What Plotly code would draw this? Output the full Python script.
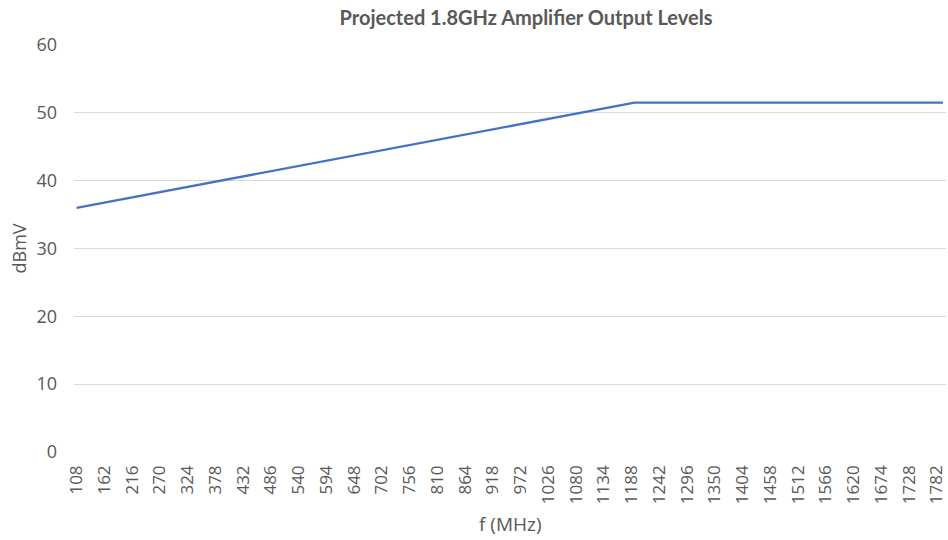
import plotly.graph_objects as go

# Data
freq_mhz = [108, 1194, 1794]
level_dbmv = [36.0, 51.5, 51.5]

tick_freqs = [108, 162, 216, 270, 324, 378, 432, 486, 540, 594, 648, 702, 756, 810,
              864, 918, 972, 1026, 1080, 1134, 1188, 1242, 1296, 1350, 1404, 1458,
              1512, 1566, 1620, 1674, 1728, 1782]
y_ticks = [0, 10, 20, 30, 40, 50, 60]

title_text = "Projected 1.8GHz Amplifier Output Levels"
x_title = "f (MHz)"
y_title = "dBmV"

gray = "#595959"
font_family = "Open Sans, Lato, sans-serif"

PLOT_L, PLOT_R, PLOT_T, PLOT_B = 74, 946, 45, 452
W, H = 948, 540
PW, PH = PLOT_R - PLOT_L, PLOT_B - PLOT_T

fig = go.Figure()
fig.add_trace(go.Scatter(
    x=freq_mhz, y=level_dbmv, mode="lines",
    line=dict(color="#4472C4", width=2.25),
    hoverinfo="x+y", showlegend=False, cliponaxis=False,
))

fig.update_layout(
    width=W, height=H,
    margin=dict(l=PLOT_L, r=W - PLOT_R, t=PLOT_T, b=H - PLOT_B, autoexpand=False),
    paper_bgcolor="white", plot_bgcolor="white",
    font=dict(family=font_family, color=gray),
    title=dict(text=f"<b>{title_text}</b>", x=526 / W, y=1 - 18 / H,
               xref="container", yref="container", xanchor="center", yanchor="middle",
               font=dict(size=20, color=gray, family="Lato, Open Sans, sans-serif")),
    xaxis=dict(
        range=[103, 1800], automargin=False,
        tickmode="array", tickvals=tick_freqs, ticktext=[str(v) for v in tick_freqs],
        tickangle=-90, tickfont=dict(size=17, color=gray),
        showgrid=False, zeroline=False, showline=False,
        ticks="", ticklabelstandoff=9, ticklabeloverflow="allow",
    ),
    yaxis=dict(
        range=[0, 60], automargin=False,
        tickmode="array", tickvals=y_ticks,
        tickfont=dict(size=18, color=gray),
        showgrid=True, gridcolor="#D9D9D9", gridwidth=1,
        zeroline=False, showline=False, ticks="", ticklabelstandoff=16,
    ),
    annotations=[
        dict(text=x_title, x=(510 - PLOT_L) / PW, y=-(524 - PLOT_B) / PH, xref="paper", yref="paper",
             xanchor="center", yanchor="middle", showarrow=False,
             font=dict(size=19, color=gray)),
        dict(text=y_title, x=-(PLOT_L - 18) / PW, y=0.5, xref="paper", yref="paper",
             xanchor="center", yanchor="middle", textangle=-90, showarrow=False,
             font=dict(size=18, color=gray)),
    ],
)

fig.write_html(
    "out.html",
    config={"displayModeBar": False},
    post_script="document.body.style.margin='0';document.body.style.overflow='hidden';",
)
